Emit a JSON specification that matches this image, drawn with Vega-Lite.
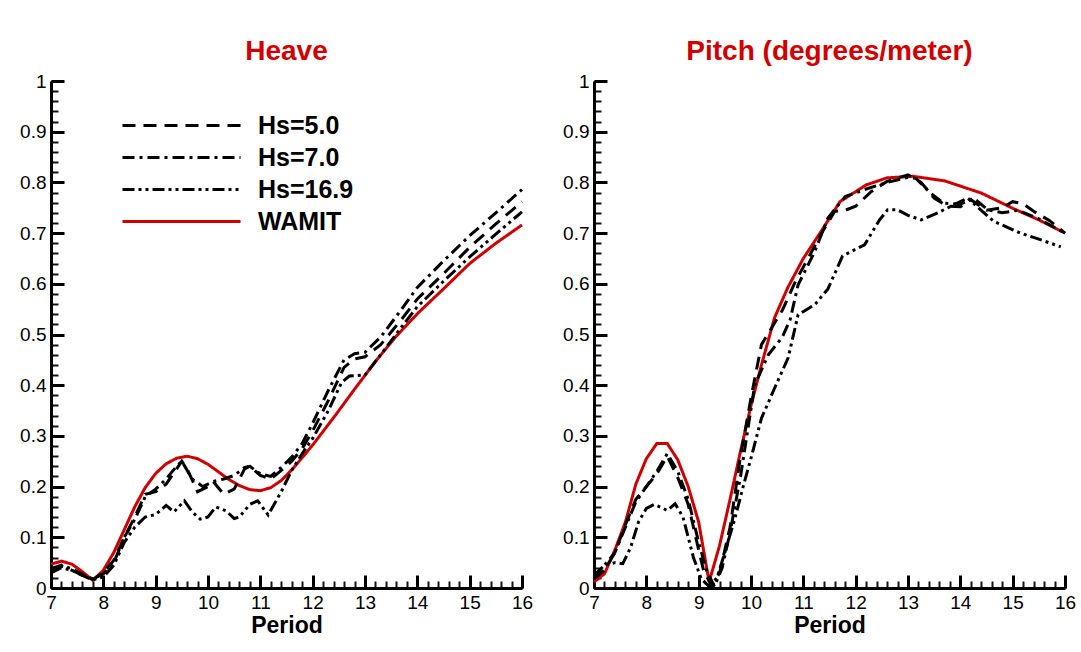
{
 "$schema": "https://vega.github.io/schema/vega-lite/v6.json",
 "background": "white",
 "padding": {"left": 19, "top": 38, "right": 5, "bottom": 5},
 "config": {"view": {"stroke": null}, "font": "Liberation Sans"},
 "spacing": 29,
 "datasets": {
  "heave": [
   {"series":"WAMIT","T":7.0,"v":0.047},{"series":"WAMIT","T":7.2,"v":0.053},{"series":"WAMIT","T":7.4,"v":0.047},{"series":"WAMIT","T":7.6,"v":0.032},{"series":"WAMIT","T":7.8,"v":0.015},{"series":"WAMIT","T":8.0,"v":0.035},{"series":"WAMIT","T":8.2,"v":0.07},{"series":"WAMIT","T":8.4,"v":0.115},{"series":"WAMIT","T":8.6,"v":0.16},{"series":"WAMIT","T":8.8,"v":0.198},{"series":"WAMIT","T":9.0,"v":0.226},{"series":"WAMIT","T":9.2,"v":0.245},{"series":"WAMIT","T":9.4,"v":0.256},{"series":"WAMIT","T":9.6,"v":0.26},{"series":"WAMIT","T":9.8,"v":0.255},{"series":"WAMIT","T":10.0,"v":0.244},{"series":"WAMIT","T":10.2,"v":0.229},{"series":"WAMIT","T":10.4,"v":0.214},{"series":"WAMIT","T":10.6,"v":0.202},{"series":"WAMIT","T":10.8,"v":0.194},{"series":"WAMIT","T":11.0,"v":0.192},{"series":"WAMIT","T":11.2,"v":0.198},{"series":"WAMIT","T":11.4,"v":0.212},{"series":"WAMIT","T":11.6,"v":0.233},{"series":"WAMIT","T":11.8,"v":0.257},{"series":"WAMIT","T":12.0,"v":0.282},{"series":"WAMIT","T":12.4,"v":0.336},{"series":"WAMIT","T":12.8,"v":0.392},{"series":"WAMIT","T":13.2,"v":0.447},{"series":"WAMIT","T":13.6,"v":0.497},{"series":"WAMIT","T":14.0,"v":0.541},{"series":"WAMIT","T":14.5,"v":0.59},{"series":"WAMIT","T":15.0,"v":0.64},{"series":"WAMIT","T":15.5,"v":0.68},{"series":"WAMIT","T":16.0,"v":0.716},
   {"series":"Hs=5.0","T":7.0,"v":0.035},{"series":"Hs=5.0","T":7.2,"v":0.043},{"series":"Hs=5.0","T":7.4,"v":0.035},{"series":"Hs=5.0","T":7.6,"v":0.025},{"series":"Hs=5.0","T":7.8,"v":0.017},{"series":"Hs=5.0","T":8.0,"v":0.03},{"series":"Hs=5.0","T":8.2,"v":0.055},{"series":"Hs=5.0","T":8.4,"v":0.1},{"series":"Hs=5.0","T":8.6,"v":0.14},{"series":"Hs=5.0","T":8.8,"v":0.185},{"series":"Hs=5.0","T":9.0,"v":0.19},{"series":"Hs=5.0","T":9.2,"v":0.205},{"series":"Hs=5.0","T":9.4,"v":0.235},{"series":"Hs=5.0","T":9.5,"v":0.25},{"series":"Hs=5.0","T":9.6,"v":0.235},{"series":"Hs=5.0","T":9.8,"v":0.19},{"series":"Hs=5.0","T":10.0,"v":0.2},{"series":"Hs=5.0","T":10.1,"v":0.21},{"series":"Hs=5.0","T":10.3,"v":0.185},{"series":"Hs=5.0","T":10.5,"v":0.195},{"series":"Hs=5.0","T":10.7,"v":0.235},{"series":"Hs=5.0","T":10.8,"v":0.24},{"series":"Hs=5.0","T":11.0,"v":0.222},{"series":"Hs=5.0","T":11.2,"v":0.215},{"series":"Hs=5.0","T":11.4,"v":0.232},{"series":"Hs=5.0","T":11.6,"v":0.25},{"series":"Hs=5.0","T":11.8,"v":0.275},{"series":"Hs=5.0","T":12.0,"v":0.31},{"series":"Hs=5.0","T":12.3,"v":0.37},{"series":"Hs=5.0","T":12.6,"v":0.435},{"series":"Hs=5.0","T":12.8,"v":0.452},{"series":"Hs=5.0","T":13.0,"v":0.456},{"series":"Hs=5.0","T":13.3,"v":0.48},{"series":"Hs=5.0","T":13.7,"v":0.53},{"series":"Hs=5.0","T":14.0,"v":0.57},{"series":"Hs=5.0","T":14.5,"v":0.62},{"series":"Hs=5.0","T":15.0,"v":0.672},{"series":"Hs=5.0","T":15.5,"v":0.718},{"series":"Hs=5.0","T":16.0,"v":0.762},
   {"series":"Hs=7.0","T":7.0,"v":0.038},{"series":"Hs=7.0","T":7.2,"v":0.045},{"series":"Hs=7.0","T":7.4,"v":0.038},{"series":"Hs=7.0","T":7.6,"v":0.027},{"series":"Hs=7.0","T":7.8,"v":0.018},{"series":"Hs=7.0","T":8.0,"v":0.028},{"series":"Hs=7.0","T":8.2,"v":0.05},{"series":"Hs=7.0","T":8.4,"v":0.1},{"series":"Hs=7.0","T":8.6,"v":0.135},{"series":"Hs=7.0","T":8.8,"v":0.18},{"series":"Hs=7.0","T":9.0,"v":0.195},{"series":"Hs=7.0","T":9.2,"v":0.215},{"series":"Hs=7.0","T":9.4,"v":0.24},{"series":"Hs=7.0","T":9.5,"v":0.25},{"series":"Hs=7.0","T":9.7,"v":0.215},{"series":"Hs=7.0","T":9.9,"v":0.2},{"series":"Hs=7.0","T":10.1,"v":0.21},{"series":"Hs=7.0","T":10.3,"v":0.215},{"series":"Hs=7.0","T":10.5,"v":0.222},{"series":"Hs=7.0","T":10.7,"v":0.238},{"series":"Hs=7.0","T":10.8,"v":0.24},{"series":"Hs=7.0","T":11.0,"v":0.225},{"series":"Hs=7.0","T":11.2,"v":0.22},{"series":"Hs=7.0","T":11.4,"v":0.238},{"series":"Hs=7.0","T":11.6,"v":0.258},{"series":"Hs=7.0","T":11.8,"v":0.285},{"series":"Hs=7.0","T":12.0,"v":0.325},{"series":"Hs=7.0","T":12.3,"v":0.39},{"series":"Hs=7.0","T":12.6,"v":0.45},{"series":"Hs=7.0","T":12.8,"v":0.462},{"series":"Hs=7.0","T":13.0,"v":0.465},{"series":"Hs=7.0","T":13.3,"v":0.495},{"series":"Hs=7.0","T":13.7,"v":0.55},{"series":"Hs=7.0","T":14.0,"v":0.593},{"series":"Hs=7.0","T":14.5,"v":0.645},{"series":"Hs=7.0","T":15.0,"v":0.695},{"series":"Hs=7.0","T":15.5,"v":0.74},{"series":"Hs=7.0","T":16.0,"v":0.786},
   {"series":"Hs=16.9","T":7.0,"v":0.03},{"series":"Hs=16.9","T":7.2,"v":0.04},{"series":"Hs=16.9","T":7.4,"v":0.035},{"series":"Hs=16.9","T":7.6,"v":0.025},{"series":"Hs=16.9","T":7.8,"v":0.016},{"series":"Hs=16.9","T":8.0,"v":0.022},{"series":"Hs=16.9","T":8.2,"v":0.045},{"series":"Hs=16.9","T":8.4,"v":0.09},{"series":"Hs=16.9","T":8.6,"v":0.12},{"series":"Hs=16.9","T":8.8,"v":0.14},{"series":"Hs=16.9","T":9.0,"v":0.145},{"series":"Hs=16.9","T":9.2,"v":0.163},{"series":"Hs=16.9","T":9.35,"v":0.15},{"series":"Hs=16.9","T":9.55,"v":0.172},{"series":"Hs=16.9","T":9.7,"v":0.15},{"series":"Hs=16.9","T":9.85,"v":0.136},{"series":"Hs=16.9","T":10.0,"v":0.14},{"series":"Hs=16.9","T":10.15,"v":0.16},{"series":"Hs=16.9","T":10.35,"v":0.152},{"series":"Hs=16.9","T":10.5,"v":0.137},{"series":"Hs=16.9","T":10.6,"v":0.14},{"series":"Hs=16.9","T":10.8,"v":0.165},{"series":"Hs=16.9","T":10.95,"v":0.172},{"series":"Hs=16.9","T":11.15,"v":0.144},{"series":"Hs=16.9","T":11.4,"v":0.19},{"series":"Hs=16.9","T":11.6,"v":0.232},{"series":"Hs=16.9","T":11.8,"v":0.265},{"series":"Hs=16.9","T":12.0,"v":0.295},{"series":"Hs=16.9","T":12.3,"v":0.35},{"series":"Hs=16.9","T":12.55,"v":0.405},{"series":"Hs=16.9","T":12.7,"v":0.418},{"series":"Hs=16.9","T":13.0,"v":0.42},{"series":"Hs=16.9","T":13.3,"v":0.46},{"series":"Hs=16.9","T":13.7,"v":0.515},{"series":"Hs=16.9","T":14.0,"v":0.555},{"series":"Hs=16.9","T":14.5,"v":0.605},{"series":"Hs=16.9","T":15.0,"v":0.653},{"series":"Hs=16.9","T":15.5,"v":0.698},{"series":"Hs=16.9","T":16.0,"v":0.742}
  ],
  "pitch": [
   {"series":"WAMIT","T":7.0,"v":0.012},{"series":"WAMIT","T":7.2,"v":0.028},{"series":"WAMIT","T":7.4,"v":0.075},{"series":"WAMIT","T":7.6,"v":0.13},{"series":"WAMIT","T":7.8,"v":0.205},{"series":"WAMIT","T":8.0,"v":0.255},{"series":"WAMIT","T":8.2,"v":0.285},{"series":"WAMIT","T":8.4,"v":0.285},{"series":"WAMIT","T":8.6,"v":0.253},{"series":"WAMIT","T":8.8,"v":0.2},{"series":"WAMIT","T":9.0,"v":0.13},{"series":"WAMIT","T":9.2,"v":0.012},{"series":"WAMIT","T":9.4,"v":0.084},{"series":"WAMIT","T":9.6,"v":0.175},{"series":"WAMIT","T":9.8,"v":0.27},{"series":"WAMIT","T":10.0,"v":0.36},{"series":"WAMIT","T":10.2,"v":0.44},{"series":"WAMIT","T":10.45,"v":0.533},{"series":"WAMIT","T":10.7,"v":0.592},{"series":"WAMIT","T":11.0,"v":0.65},{"series":"WAMIT","T":11.35,"v":0.705},{"series":"WAMIT","T":11.7,"v":0.762},{"series":"WAMIT","T":12.2,"v":0.795},{"series":"WAMIT","T":12.6,"v":0.809},{"series":"WAMIT","T":13.1,"v":0.812},{"series":"WAMIT","T":13.7,"v":0.803},{"series":"WAMIT","T":14.4,"v":0.779},{"series":"WAMIT","T":15.0,"v":0.749},{"series":"WAMIT","T":15.5,"v":0.726},{"series":"WAMIT","T":16.0,"v":0.7},
   {"series":"Hs=5.0","T":7.0,"v":0.018},{"series":"Hs=5.0","T":7.2,"v":0.035},{"series":"Hs=5.0","T":7.4,"v":0.07},{"series":"Hs=5.0","T":7.6,"v":0.125},{"series":"Hs=5.0","T":7.8,"v":0.175},{"series":"Hs=5.0","T":8.0,"v":0.2},{"series":"Hs=5.0","T":8.2,"v":0.225},{"series":"Hs=5.0","T":8.4,"v":0.26},{"series":"Hs=5.0","T":8.6,"v":0.218},{"series":"Hs=5.0","T":8.8,"v":0.165},{"series":"Hs=5.0","T":9.0,"v":0.075},{"series":"Hs=5.0","T":9.1,"v":0.032},{"series":"Hs=5.0","T":9.25,"v":0.005},{"series":"Hs=5.0","T":9.4,"v":0.03},{"series":"Hs=5.0","T":9.6,"v":0.12},{"series":"Hs=5.0","T":9.8,"v":0.26},{"series":"Hs=5.0","T":10.0,"v":0.375},{"series":"Hs=5.0","T":10.2,"v":0.48},{"series":"Hs=5.0","T":10.6,"v":0.548},{"series":"Hs=5.0","T":10.85,"v":0.605},{"series":"Hs=5.0","T":11.1,"v":0.652},{"series":"Hs=5.0","T":11.35,"v":0.7},{"series":"Hs=5.0","T":11.6,"v":0.743},{"series":"Hs=5.0","T":11.8,"v":0.745},{"series":"Hs=5.0","T":12.0,"v":0.753},{"series":"Hs=5.0","T":12.3,"v":0.782},{"series":"Hs=5.0","T":12.6,"v":0.802},{"series":"Hs=5.0","T":13.0,"v":0.815},{"series":"Hs=5.0","T":13.25,"v":0.8},{"series":"Hs=5.0","T":13.5,"v":0.769},{"series":"Hs=5.0","T":13.75,"v":0.753},{"series":"Hs=5.0","T":14.0,"v":0.752},{"series":"Hs=5.0","T":14.2,"v":0.766},{"series":"Hs=5.0","T":14.5,"v":0.745},{"series":"Hs=5.0","T":14.8,"v":0.75},{"series":"Hs=5.0","T":15.0,"v":0.762},{"series":"Hs=5.0","T":15.2,"v":0.758},{"series":"Hs=5.0","T":15.4,"v":0.743},{"series":"Hs=5.0","T":15.7,"v":0.725},{"series":"Hs=5.0","T":16.0,"v":0.7},
   {"series":"Hs=7.0","T":7.0,"v":0.02},{"series":"Hs=7.0","T":7.2,"v":0.045},{"series":"Hs=7.0","T":7.4,"v":0.07},{"series":"Hs=7.0","T":7.6,"v":0.12},{"series":"Hs=7.0","T":7.8,"v":0.17},{"series":"Hs=7.0","T":8.0,"v":0.2},{"series":"Hs=7.0","T":8.2,"v":0.23},{"series":"Hs=7.0","T":8.4,"v":0.265},{"series":"Hs=7.0","T":8.6,"v":0.23},{"series":"Hs=7.0","T":8.8,"v":0.175},{"series":"Hs=7.0","T":9.0,"v":0.09},{"series":"Hs=7.0","T":9.15,"v":0.035},{"series":"Hs=7.0","T":9.3,"v":0.003},{"series":"Hs=7.0","T":9.45,"v":0.04},{"series":"Hs=7.0","T":9.6,"v":0.11},{"series":"Hs=7.0","T":9.8,"v":0.22},{"series":"Hs=7.0","T":10.07,"v":0.4},{"series":"Hs=7.0","T":10.33,"v":0.46},{"series":"Hs=7.0","T":10.6,"v":0.495},{"series":"Hs=7.0","T":10.75,"v":0.53},{"series":"Hs=7.0","T":10.9,"v":0.598},{"series":"Hs=7.0","T":11.22,"v":0.664},{"series":"Hs=7.0","T":11.47,"v":0.73},{"series":"Hs=7.0","T":11.8,"v":0.772},{"series":"Hs=7.0","T":12.2,"v":0.787},{"series":"Hs=7.0","T":12.6,"v":0.8},{"series":"Hs=7.0","T":13.0,"v":0.81},{"series":"Hs=7.0","T":13.15,"v":0.808},{"series":"Hs=7.0","T":13.43,"v":0.779},{"series":"Hs=7.0","T":13.68,"v":0.759},{"series":"Hs=7.0","T":14.0,"v":0.757},{"series":"Hs=7.0","T":14.26,"v":0.769},{"series":"Hs=7.0","T":14.52,"v":0.746},{"series":"Hs=7.0","T":14.8,"v":0.74},{"series":"Hs=7.0","T":15.1,"v":0.745},{"series":"Hs=7.0","T":15.5,"v":0.728},{"series":"Hs=7.0","T":16.0,"v":0.7},
   {"series":"Hs=16.9","T":7.0,"v":0.025},{"series":"Hs=16.9","T":7.2,"v":0.045},{"series":"Hs=16.9","T":7.4,"v":0.05},{"series":"Hs=16.9","T":7.55,"v":0.048},{"series":"Hs=16.9","T":7.7,"v":0.08},{"series":"Hs=16.9","T":7.85,"v":0.13},{"series":"Hs=16.9","T":8.0,"v":0.157},{"series":"Hs=16.9","T":8.15,"v":0.165},{"series":"Hs=16.9","T":8.3,"v":0.158},{"series":"Hs=16.9","T":8.4,"v":0.153},{"series":"Hs=16.9","T":8.55,"v":0.166},{"series":"Hs=16.9","T":8.7,"v":0.14},{"series":"Hs=16.9","T":8.9,"v":0.06},{"series":"Hs=16.9","T":9.05,"v":0.018},{"series":"Hs=16.9","T":9.2,"v":0.003},{"series":"Hs=16.9","T":9.35,"v":0.02},{"series":"Hs=16.9","T":9.5,"v":0.07},{"series":"Hs=16.9","T":9.7,"v":0.14},{"series":"Hs=16.9","T":9.85,"v":0.2},{"series":"Hs=16.9","T":10.0,"v":0.256},{"series":"Hs=16.9","T":10.2,"v":0.335},{"series":"Hs=16.9","T":10.45,"v":0.394},{"series":"Hs=16.9","T":10.71,"v":0.454},{"series":"Hs=16.9","T":10.9,"v":0.539},{"series":"Hs=16.9","T":11.22,"v":0.559},{"series":"Hs=16.9","T":11.47,"v":0.59},{"series":"Hs=16.9","T":11.75,"v":0.655},{"series":"Hs=16.9","T":12.17,"v":0.677},{"series":"Hs=16.9","T":12.45,"v":0.725},{"series":"Hs=16.9","T":12.61,"v":0.746},{"series":"Hs=16.9","T":12.8,"v":0.746},{"series":"Hs=16.9","T":13.0,"v":0.735},{"series":"Hs=16.9","T":13.25,"v":0.726},{"series":"Hs=16.9","T":13.57,"v":0.74},{"series":"Hs=16.9","T":13.88,"v":0.756},{"series":"Hs=16.9","T":14.14,"v":0.769},{"series":"Hs=16.9","T":14.4,"v":0.745},{"series":"Hs=16.9","T":14.64,"v":0.723},{"series":"Hs=16.9","T":15.15,"v":0.7},{"series":"Hs=16.9","T":15.5,"v":0.688},{"series":"Hs=16.9","T":15.92,"v":0.673}
  ]
 },
 "resolve": {"scale": {"color": "independent", "strokeDash": "independent"}},
 "hconcat": [
  {
   "width": 471, "height": 507,
   "title": {"text": "Heave", "fontSize": 28, "fontWeight": "bold", "color": "#D00000", "font": "Liberation Sans", "offset": 6, "anchor": "middle"},
   "data": {"name": "heave"},
   "resolve": {"axis": {"x": "independent", "y": "independent"}},
   "layer": [
    {
     "mark": {"type": "point", "opacity": 0},
     "encoding": {
      "x": {"field": "T", "type": "quantitative", "scale": {"domain": [7, 16], "nice": false, "zero": false},
            "axis": {"orient": "bottom", "values": [7,7.2,7.4,7.6,7.8,8,8.2,8.4,8.6,8.8,9,9.2,9.4,9.6,9.8,10,10.2,10.4,10.6,10.8,11,11.2,11.4,11.6,11.8,12,12.2,12.4,12.6,12.8,13,13.2,13.4,13.6,13.8,14,14.2,14.4,14.6,14.8,15,15.2,15.4,15.6,15.8,16], "labels": false, "domain": false, "grid": false, "title": null, "tickSize": -7, "tickWidth": 2, "tickColor": "#111111"}},
      "y": {"field": "v", "type": "quantitative", "scale": {"domain": [0, 1], "nice": false, "zero": false},
            "axis": {"orient": "left", "values": [0,0.02,0.04,0.06,0.08,0.1,0.12,0.14,0.16,0.18,0.2,0.22,0.24,0.26,0.28,0.3,0.32,0.34,0.36,0.38,0.4,0.42,0.44,0.46,0.48,0.5,0.52,0.54,0.56,0.58,0.6,0.62,0.64,0.66,0.68,0.7,0.72,0.74,0.76,0.78,0.8,0.82,0.84,0.86,0.88,0.9,0.92,0.94,0.96,0.98,1], "labels": false, "domain": false, "grid": false, "title": null, "tickSize": -7, "tickWidth": 2, "tickColor": "#111111"}}
     }
    },
    {
     "mark": {"type": "line", "strokeWidth": 3},
     "encoding": {
      "x": {"field": "T", "type": "quantitative", "scale": {"domain": [7, 16], "nice": false, "zero": false},
            "axis": {"orient": "bottom", "values": [7,8,9,10,11,12,13,14,15,16], "format": "~g", "grid": false, "title": "Period", "titleFontSize": 23, "titleFontWeight": "bold", "titleColor": "black", "titleFont": "Liberation Sans", "titlePadding": 2, "labelFontSize": 19, "labelColor": "black", "labelFont": "Liberation Sans", "labelPadding": 18, "labelFlush": false, "tickSize": -13, "tickWidth": 3, "tickColor": "black", "domainColor": "black", "domainWidth": 3}},
      "y": {"field": "v", "type": "quantitative", "scale": {"domain": [0, 1], "nice": false, "zero": false},
            "axis": {"orient": "left", "values": [0,0.1,0.2,0.3,0.4,0.5,0.6,0.7,0.8,0.9,1], "format": "~g", "grid": false, "title": null, "labelFontSize": 19, "labelColor": "black", "labelFont": "Liberation Sans", "labelPadding": 18, "labelFlush": false, "tickSize": -13, "tickWidth": 3, "tickColor": "black", "domainColor": "black", "domainWidth": 3}},
      "color": {"field": "series", "type": "nominal", "scale": {"domain": ["Hs=5.0", "Hs=7.0", "Hs=16.9", "WAMIT"], "range": ["black", "black", "black", "#CC0000"]},
                "legend": {"orient": "none", "legendX": 117, "legendY": 31, "title": null, "symbolType": "M-5,0L5,0", "symbolSize": 557, "symbolStrokeWidth": 3, "labelFontSize": 25, "labelFontWeight": "bold", "labelFont": "Liberation Sans", "labelColor": "black", "labelOffset": 63, "padding": 0, "rowPadding": 5}},
      "strokeDash": {"field": "series", "type": "nominal", "scale": {"domain": ["Hs=5.0", "Hs=7.0", "Hs=16.9", "WAMIT"], "range": [[13, 8], [12, 5, 3, 5], [12, 4, 3, 4, 3, 4], [1, 0]]},
                "legend": {"orient": "none", "legendX": 117, "legendY": 31, "title": null, "symbolType": "M-5,0L5,0", "symbolSize": 557, "symbolStrokeWidth": 3, "labelFontSize": 25, "labelFontWeight": "bold", "labelFont": "Liberation Sans", "labelColor": "black", "labelOffset": 63, "padding": 0, "rowPadding": 5}}
     }
    }
   ]
  },
  {
   "width": 471, "height": 507,
   "title": {"text": "Pitch (degrees/meter)", "fontSize": 28, "fontWeight": "bold", "color": "#D00000", "font": "Liberation Sans", "offset": 6, "anchor": "middle"},
   "data": {"name": "pitch"},
   "resolve": {"axis": {"x": "independent", "y": "independent"}},
   "layer": [
    {
     "mark": {"type": "point", "opacity": 0},
     "encoding": {
      "x": {"field": "T", "type": "quantitative", "scale": {"domain": [7, 16], "nice": false, "zero": false},
            "axis": {"orient": "bottom", "values": [7,7.2,7.4,7.6,7.8,8,8.2,8.4,8.6,8.8,9,9.2,9.4,9.6,9.8,10,10.2,10.4,10.6,10.8,11,11.2,11.4,11.6,11.8,12,12.2,12.4,12.6,12.8,13,13.2,13.4,13.6,13.8,14,14.2,14.4,14.6,14.8,15,15.2,15.4,15.6,15.8,16], "labels": false, "domain": false, "grid": false, "title": null, "tickSize": -7, "tickWidth": 2, "tickColor": "#111111"}},
      "y": {"field": "v", "type": "quantitative", "scale": {"domain": [0, 1], "nice": false, "zero": false},
            "axis": {"orient": "left", "values": [0,0.02,0.04,0.06,0.08,0.1,0.12,0.14,0.16,0.18,0.2,0.22,0.24,0.26,0.28,0.3,0.32,0.34,0.36,0.38,0.4,0.42,0.44,0.46,0.48,0.5,0.52,0.54,0.56,0.58,0.6,0.62,0.64,0.66,0.68,0.7,0.72,0.74,0.76,0.78,0.8,0.82,0.84,0.86,0.88,0.9,0.92,0.94,0.96,0.98,1], "labels": false, "domain": false, "grid": false, "title": null, "tickSize": -7, "tickWidth": 2, "tickColor": "#111111"}}
     }
    },
    {
     "mark": {"type": "line", "strokeWidth": 3},
     "encoding": {
      "x": {"field": "T", "type": "quantitative", "scale": {"domain": [7, 16], "nice": false, "zero": false},
            "axis": {"orient": "bottom", "values": [7,8,9,10,11,12,13,14,15,16], "format": "~g", "grid": false, "title": "Period", "titleFontSize": 23, "titleFontWeight": "bold", "titleColor": "black", "titleFont": "Liberation Sans", "titlePadding": 2, "labelFontSize": 19, "labelColor": "black", "labelFont": "Liberation Sans", "labelPadding": 18, "labelFlush": false, "tickSize": -13, "tickWidth": 3, "tickColor": "black", "domainColor": "black", "domainWidth": 3}},
      "y": {"field": "v", "type": "quantitative", "scale": {"domain": [0, 1], "nice": false, "zero": false},
            "axis": {"orient": "left", "values": [0,0.1,0.2,0.3,0.4,0.5,0.6,0.7,0.8,0.9,1], "format": "~g", "grid": false, "title": null, "labelFontSize": 19, "labelColor": "black", "labelFont": "Liberation Sans", "labelPadding": 18, "labelFlush": false, "tickSize": -13, "tickWidth": 3, "tickColor": "black", "domainColor": "black", "domainWidth": 3}},
      "color": {"field": "series", "type": "nominal", "scale": {"domain": ["Hs=5.0", "Hs=7.0", "Hs=16.9", "WAMIT"], "range": ["black", "black", "black", "#CC0000"]}, "legend": null},
      "strokeDash": {"field": "series", "type": "nominal", "scale": {"domain": ["Hs=5.0", "Hs=7.0", "Hs=16.9", "WAMIT"], "range": [[13, 8], [12, 5, 3, 5], [12, 4, 3, 4, 3, 4], [1, 0]]}, "legend": null}
     }
    }
   ]
  }
 ]
}
